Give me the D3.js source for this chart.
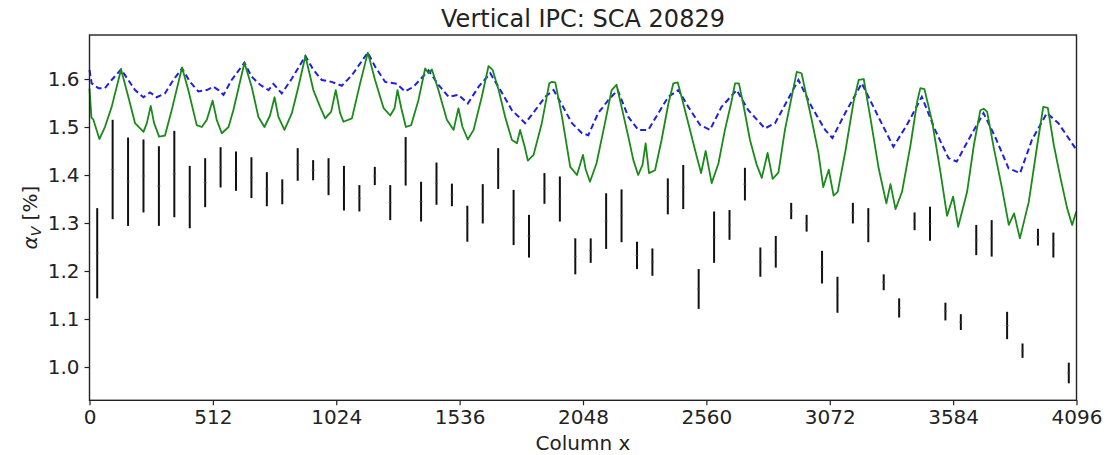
<!DOCTYPE html>
<html>
<head>
<meta charset="utf-8">
<script src="https://cdn.jsdelivr.net/npm/d3@7"></script>
<style>
  body { margin: 0; background: #fff; }
  svg { display: block; font-family: "DejaVu Sans", sans-serif; }
</style>
</head>
<body>
<svg id="chart" width="1117" height="455"></svg>
<script>
// datos (columna del detector -> alpha_V en %)
const greenCols = [0, 8, 16, 41, 64, 92, 131, 161, 189, 224, 238, 254, 268, 289, 313, 338, 384, 410, 445, 466, 487, 511, 528, 549, 577, 597, 643, 673, 701, 726, 749, 768, 784, 809, 840, 867, 896, 929, 957, 978, 1003, 1022, 1040, 1054, 1089, 1123, 1155, 1185, 1220, 1248, 1266, 1278, 1294, 1313, 1335, 1365, 1393, 1407, 1421, 1448, 1483, 1511, 1531, 1548, 1570, 1594, 1628, 1656, 1673, 1698, 1725, 1753, 1774, 1787, 1806, 1819, 1843, 1877, 1908, 1919, 1933, 1961, 1995, 2023, 2048, 2059, 2077, 2104, 2139, 2167, 2187, 2208, 2236, 2257, 2277, 2295, 2308, 2322, 2347, 2374, 2402, 2423, 2441, 2457, 2485, 2513, 2538, 2557, 2582, 2610, 2637, 2662, 2679, 2695, 2713, 2741, 2769, 2790, 2814, 2835, 2859, 2886, 2914, 2935, 2955, 2970, 2997, 3025, 3045, 3068, 3088, 3105, 3137, 3171, 3192, 3213, 3241, 3275, 3307, 3324, 3345, 3372, 3407, 3435, 3448, 3465, 3497, 3531, 3559, 3584, 3605, 3642, 3670, 3697, 3711, 3725, 3753, 3787, 3815, 3837, 3861, 3898, 3933, 3958, 3977, 4002, 4030, 4057, 4078, 4095];
const greenVals = [1.580, 1.520, 1.515, 1.475, 1.500, 1.542, 1.620, 1.563, 1.508, 1.490, 1.508, 1.544, 1.508, 1.480, 1.482, 1.529, 1.624, 1.577, 1.504, 1.500, 1.515, 1.555, 1.515, 1.487, 1.500, 1.535, 1.634, 1.584, 1.521, 1.500, 1.524, 1.562, 1.521, 1.494, 1.529, 1.584, 1.648, 1.577, 1.542, 1.518, 1.532, 1.577, 1.529, 1.511, 1.518, 1.591, 1.655, 1.598, 1.540, 1.524, 1.539, 1.577, 1.539, 1.500, 1.504, 1.556, 1.622, 1.612, 1.620, 1.577, 1.515, 1.494, 1.539, 1.500, 1.474, 1.494, 1.563, 1.627, 1.619, 1.577, 1.521, 1.473, 1.466, 1.494, 1.459, 1.430, 1.442, 1.508, 1.591, 1.594, 1.593, 1.521, 1.417, 1.400, 1.442, 1.412, 1.386, 1.424, 1.508, 1.577, 1.588, 1.542, 1.480, 1.431, 1.400, 1.421, 1.466, 1.404, 1.410, 1.473, 1.548, 1.591, 1.593, 1.563, 1.508, 1.452, 1.404, 1.450, 1.383, 1.424, 1.494, 1.548, 1.591, 1.591, 1.548, 1.473, 1.421, 1.394, 1.446, 1.392, 1.405, 1.494, 1.563, 1.615, 1.612, 1.577, 1.515, 1.446, 1.375, 1.411, 1.357, 1.365, 1.450, 1.553, 1.598, 1.600, 1.518, 1.414, 1.341, 1.381, 1.329, 1.365, 1.462, 1.553, 1.581, 1.579, 1.511, 1.407, 1.315, 1.355, 1.292, 1.365, 1.462, 1.535, 1.538, 1.532, 1.456, 1.372, 1.296, 1.320, 1.268, 1.344, 1.462, 1.542, 1.540, 1.462, 1.393, 1.331, 1.296, 1.324];

const blueCols = [0, 9, 37, 64, 92, 131, 161, 189, 224, 251, 279, 313, 348, 384, 417, 452, 487, 514, 535, 556, 590, 643, 673, 708, 743, 763, 798, 840, 896, 929, 964, 1005, 1047, 1089, 1155, 1185, 1227, 1275, 1310, 1345, 1407, 1448, 1490, 1531, 1570, 1615, 1663, 1705, 1753, 1808, 1850, 1892, 1926, 1961, 2002, 2044, 2070, 2111, 2153, 2192, 2236, 2277, 2319, 2361, 2402, 2444, 2485, 2534, 2575, 2623, 2686, 2734, 2803, 2845, 2886, 2942, 2997, 3053, 3083, 3136, 3205, 3274, 3336, 3392, 3454, 3509, 3565, 3599, 3655, 3710, 3758, 3814, 3862, 3911, 3973, 4021, 4091];
const blueVals = [1.619, 1.591, 1.581, 1.581, 1.598, 1.620, 1.598, 1.577, 1.562, 1.572, 1.562, 1.570, 1.598, 1.622, 1.594, 1.574, 1.577, 1.584, 1.577, 1.567, 1.598, 1.634, 1.605, 1.588, 1.577, 1.590, 1.570, 1.601, 1.648, 1.619, 1.598, 1.594, 1.586, 1.608, 1.655, 1.626, 1.594, 1.590, 1.574, 1.584, 1.618, 1.588, 1.563, 1.567, 1.549, 1.584, 1.612, 1.577, 1.535, 1.508, 1.535, 1.563, 1.577, 1.546, 1.508, 1.487, 1.483, 1.529, 1.556, 1.577, 1.521, 1.494, 1.494, 1.529, 1.563, 1.577, 1.542, 1.504, 1.494, 1.542, 1.577, 1.535, 1.497, 1.508, 1.546, 1.598, 1.542, 1.494, 1.477, 1.529, 1.591, 1.521, 1.459, 1.504, 1.563, 1.494, 1.435, 1.428, 1.480, 1.529, 1.480, 1.414, 1.404, 1.473, 1.529, 1.508, 1.456];

// barras de error: columna, limite inferior y superior
const barCols = [32, 96, 160, 224, 288, 352, 416, 480, 544, 608, 672, 736, 800, 864, 928, 992, 1056, 1120, 1184, 1248, 1312, 1376, 1440, 1504, 1568, 1632, 1696, 1760, 1824, 1888, 1952, 2016, 2080, 2144, 2208, 2272, 2336, 2400, 2464, 2528, 2592, 2656, 2720, 2784, 2848, 2912, 2976, 3040, 3104, 3168, 3232, 3296, 3360, 3424, 3488, 3552, 3616, 3680, 3744, 3808, 3872, 3936, 4000, 4064];
const barHi = [1.331, 1.515, 1.478, 1.474, 1.460, 1.492, 1.419, 1.435, 1.458, 1.449, 1.437, 1.406, 1.391, 1.456, 1.431, 1.435, 1.419, 1.379, 1.417, 1.379, 1.479, 1.386, 1.426, 1.382, 1.336, 1.381, 1.456, 1.369, 1.317, 1.404, 1.397, 1.268, 1.268, 1.362, 1.370, 1.261, 1.247, 1.393, 1.421, 1.204, 1.324, 1.327, 1.415, 1.249, 1.273, 1.342, 1.317, 1.242, 1.188, 1.342, 1.331, 1.193, 1.143, 1.322, 1.334, 1.134, 1.110, 1.296, 1.306, 1.115, 1.049, 1.288, 1.280, 1.009];
const barLo = [1.143, 1.308, 1.294, 1.322, 1.294, 1.312, 1.289, 1.333, 1.374, 1.367, 1.352, 1.335, 1.339, 1.388, 1.389, 1.358, 1.326, 1.324, 1.379, 1.306, 1.378, 1.303, 1.338, 1.335, 1.261, 1.299, 1.371, 1.254, 1.228, 1.340, 1.303, 1.193, 1.217, 1.246, 1.260, 1.204, 1.190, 1.318, 1.329, 1.121, 1.217, 1.265, 1.347, 1.188, 1.207, 1.308, 1.282, 1.174, 1.113, 1.299, 1.260, 1.160, 1.103, 1.285, 1.263, 1.097, 1.077, 1.233, 1.230, 1.058, 1.019, 1.253, 1.228, 0.966];

const xTicks = [0, 512, 1024, 1536, 2048, 2560, 3072, 3584, 4096];
const yTicks = [1.0, 1.1, 1.2, 1.3, 1.4, 1.5, 1.6];

// contenedor y area del grafico
const svg = d3.select("#chart");
const margin = {top: 35, right: 40.5, bottom: 54.7, left: 89.5};
const width = 1117 - margin.left - margin.right,
    height = 455 - margin.top - margin.bottom;

const g = svg.append("g")
    .attr("transform", `translate(${margin.left},${margin.top})`);

const x = d3.scaleLinear().domain([0, 4096]).range([0, width]);
const y = d3.scaleLinear().domain([0.9306, 1.6917]).range([height, 0]);

// barras verticales negras
const bars = barCols.map((c, i) => ({c: c, lo: barLo[i], hi: barHi[i]}));
g.append("g").selectAll("line.bar")
    .data(bars)
    .join("line")
    .attr("class", "bar")
    .attr("x1", d => x(d.c)).attr("x2", d => x(d.c))
    .attr("y1", d => y(d.lo)).attr("y2", d => y(d.hi))
    .attr("stroke", "#111")
    .attr("stroke-width", 2);

// marca pequeña en el centro de cada barra
g.append("g").selectAll("line.mid")
    .data(bars)
    .join("line")
    .attr("class", "mid")
    .attr("x1", d => x(d.c) - 1.5).attr("x2", d => x(d.c) + 1.5)
    .attr("y1", d => y((d.lo + d.hi) / 2)).attr("y2", d => y((d.lo + d.hi) / 2))
    .attr("stroke", "#555")
    .attr("stroke-width", 0.8);

const line = d3.line()
    .x(d => x(d[0]))
    .y(d => y(d[1]));

// linea azul discontinua
g.append("path")
    .datum(blueCols.map((c, i) => [c, blueVals[i]]))
    .attr("d", line)
    .attr("fill", "none")
    .attr("stroke", "#1f1fe0")
    .attr("stroke-width", 2)
    .attr("stroke-dasharray", "6,3.5");

// linea verde continua
g.append("path")
    .datum(greenCols.map((c, i) => [c, greenVals[i]]))
    .attr("d", line)
    .attr("fill", "none")
    .attr("stroke", "#1a8a1a")
    .attr("stroke-width", 1.8)
    .attr("stroke-linejoin", "round");

// ejes
const xAxis = g.append("g")
    .attr("transform", `translate(0,${height})`)
    .call(d3.axisBottom(x).tickValues(xTicks).tickFormat(d3.format("d")).tickSize(5).tickPadding(5));

const yAxis = g.append("g")
    .call(d3.axisLeft(y).tickValues(yTicks).tickFormat(d3.format(".1f")).tickSize(5).tickPadding(5));

[xAxis, yAxis].forEach(a => {
    a.select(".domain").remove();
    a.selectAll("line").attr("stroke", "#222").attr("stroke-width", 1.2);
    a.selectAll("text").attr("font-size", 20).attr("fill", "#222")
        .attr("font-family", "DejaVu Sans, sans-serif");
});

// marco completo
g.append("rect")
    .attr("width", width).attr("height", height)
    .attr("fill", "none")
    .attr("stroke", "#222")
    .attr("stroke-width", 1.4);

// textos
svg.append("text")
    .attr("x", margin.left + width / 2)
    .attr("y", 27)
    .attr("text-anchor", "middle")
    .attr("font-size", 24)
    .attr("fill", "#222")
    .text("Vertical IPC: SCA 20829");

svg.append("text")
    .attr("x", margin.left + width / 2)
    .attr("y", 450)
    .attr("text-anchor", "middle")
    .attr("font-size", 20)
    .attr("fill", "#222")
    .text("Column x");

const yl = svg.append("text")
    .attr("transform", `translate(37,${margin.top + height / 2}) rotate(-90)`)
    .attr("text-anchor", "middle")
    .attr("font-size", 20)
    .attr("fill", "#222");
yl.append("tspan").attr("font-style", "italic").text("α");
yl.append("tspan").attr("font-size", 14).attr("font-style", "italic").attr("dy", 4).text("V");
yl.append("tspan").attr("dy", -4).text(" [%]");
</script>
</body>
</html>
